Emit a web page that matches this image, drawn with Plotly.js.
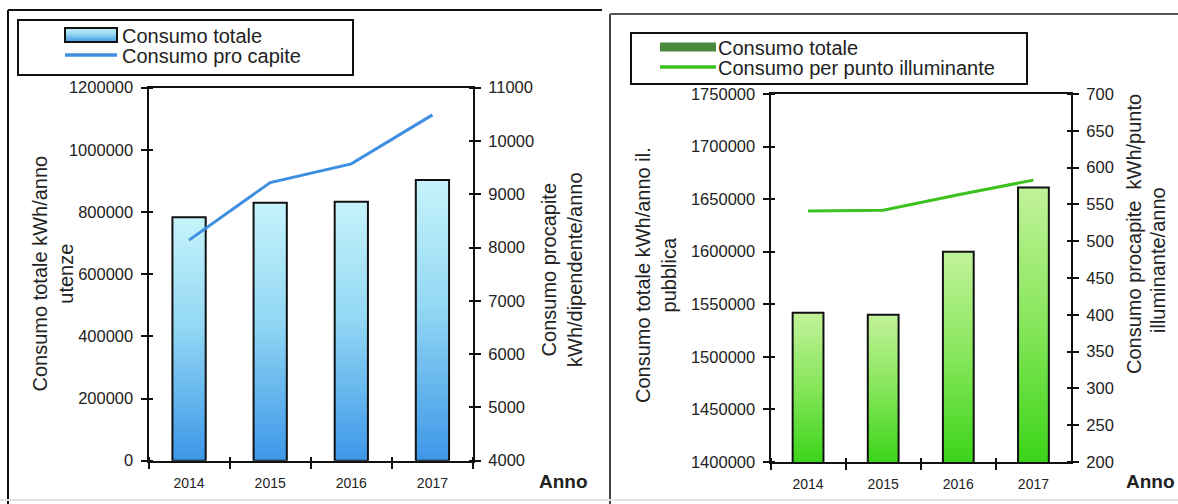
<!DOCTYPE html>
<html>
<head>
<meta charset="utf-8">
<script src="https://cdn.plot.ly/plotly-3.0.1.min.js"></script>
<style>
  html, body { margin: 0; padding: 0; background: #ffffff; }
  #chart { width: 1178px; height: 504px; }
</style>
</head>
<body>
<div id="chart"></div>
<script>
// Anni di riferimento
const years = ['2014', '2015', '2016', '2017'];

// Utenze comunali
const utenzeTotale = [783000, 830000, 833000, 903000];      // kWh/anno
const utenzeProCapite = [8140, 9220, 9570, 10490];          // kWh/dipendente/anno

// Illuminazione pubblica
const illumTotale = [1542000, 1540000, 1600000, 1661000];   // kWh/anno
const illumPerPunto = [541, 542, 563, 583];                 // kWh/punto illuminante/anno

const W = 1178, H = 504;
const fx = x => x / W;
const fy = y => 1 - y / H;

const FONT = '"Liberation Sans", Arial, sans-serif';
const INK = '#222222';
const AXIS = '#111111';

const valueTickFont = { family: FONT, size: 16.5, color: INK };
const yearTickFont = { family: FONT, size: 14, color: INK };
const titleFont = { family: FONT, size: 20, color: INK };

function valueAxis(extra) {
  return Object.assign({
    showgrid: false, zeroline: false,
    showline: true, linecolor: AXIS, linewidth: 2,
    ticks: 'outside', ticklen: 6, tickwidth: 2, tickcolor: AXIS,
    ticklabelstandoff: 4,
    tickfont: valueTickFont, tickformat: 'd',
    automargin: false, fixedrange: true
  }, extra);
}

function yearAxis(extra) {
  return Object.assign({
    type: 'category', range: [-0.5, 3.5],
    showgrid: false, zeroline: false,
    showline: true, mirror: true, linecolor: AXIS, linewidth: 2,
    ticks: 'outside', tickson: 'boundaries', ticklen: 6, tickwidth: 2, tickcolor: AXIS,
    ticklabelstandoff: 8,
    tickfont: yearTickFont,
    automargin: false, fixedrange: true
  }, extra);
}

const leftX = [fx(148.5), fx(473)];
const leftY = [fy(460.7), fy(87.7)];
const rightX = [fx(770.5), fx(1071)];
const rightY = [fy(462), fy(94)];

const traces = [
  {
    type: 'bar', name: 'Consumo totale', legend: 'legend',
    x: years, y: utenzeTotale, xaxis: 'x', yaxis: 'y', width: 0.41,
    marker: { color: '#8fd4f4', line: { color: AXIS, width: 2 } },
    hoverinfo: 'skip'
  },
  {
    type: 'scatter', mode: 'lines', name: 'Consumo pro capite', legend: 'legend',
    x: years, y: utenzeProCapite, xaxis: 'x', yaxis: 'y2',
    line: { color: '#3f8fe0', width: 3 },
    hoverinfo: 'skip'
  },
  {
    type: 'bar', name: 'Consumo totale', legend: 'legend2',
    x: years, y: illumTotale, xaxis: 'x2', yaxis: 'y3', width: 0.41,
    marker: { color: '#4a8a3c', line: { color: AXIS, width: 2 } },
    hoverinfo: 'skip'
  },
  {
    type: 'scatter', mode: 'lines', name: 'Consumo per punto illuminante', legend: 'legend2',
    x: years, y: illumPerPunto, xaxis: 'x2', yaxis: 'y4',
    line: { color: '#3cc21e', width: 3 },
    hoverinfo: 'skip'
  }
];

const legendFont = { family: FONT, size: 20, color: INK };

function vTitle(text, x, y) {
  return {
    text: text, xref: 'paper', yref: 'paper', x: fx(x), y: fy(y),
    xanchor: 'center', yanchor: 'middle', textangle: -90, align: 'center',
    showarrow: false, font: titleFont
  };
}
function annoLabel(x, y) {
  return {
    text: '<b>Anno</b>', xref: 'paper', yref: 'paper', x: fx(x), y: fy(y),
    xanchor: 'center', yanchor: 'middle', showarrow: false,
    font: { family: FONT, size: 19, color: INK }
  };
}
function frameLine(x0, y0, x1, y1, color) {
  return { type: 'line', xref: 'paper', yref: 'paper', x0: fx(x0), x1: fx(x1), y0: fy(y0), y1: fy(y1),
           line: { color: color, width: 2 } };
}
function box(x0, y0, x1, y1) {
  return { type: 'rect', xref: 'paper', yref: 'paper', x0: fx(x0), x1: fx(x1), y0: fy(y0), y1: fy(y1),
           line: { color: '#111', width: 2 }, fillcolor: 'rgba(0,0,0,0)' };
}

const layout = {
  width: W, height: H,
  margin: { l: 0, r: 0, t: 0, b: 0, pad: 0 },
  paper_bgcolor: '#ffffff', plot_bgcolor: 'rgba(0,0,0,0)',
  font: { family: FONT, color: INK },
  showlegend: true,

  // Utenze comunali
  xaxis: yearAxis({ domain: leftX, anchor: 'y' }),
  yaxis: valueAxis({ domain: leftY, anchor: 'x', range: [0, 1200000], dtick: 200000, tick0: 0 }),
  yaxis2: valueAxis({ overlaying: 'y', side: 'right', anchor: 'x', range: [4000, 11000], dtick: 1000, tick0: 4000 }),

  // Illuminazione pubblica
  xaxis2: yearAxis({ domain: rightX, anchor: 'y3' }),
  yaxis3: valueAxis({ domain: rightY, anchor: 'x2', range: [1400000, 1750000], dtick: 50000, tick0: 1400000 }),
  yaxis4: valueAxis({ overlaying: 'y3', side: 'right', anchor: 'x2', range: [200, 700], dtick: 50, tick0: 200 }),

  legend: {
    x: fx(59), y: fy(20), xanchor: 'left', yanchor: 'top',
    bgcolor: 'rgba(0,0,0,0)', borderwidth: 0,
    font: legendFont, itemwidth: 52, tracegroupgap: 0, traceorder: 'normal'
  },
  legend2: {
    x: fx(652), y: fy(33), xanchor: 'left', yanchor: 'top',
    bgcolor: 'rgba(0,0,0,0)', borderwidth: 0,
    font: legendFont, itemwidth: 56, tracegroupgap: 0, traceorder: 'normal'
  },

  annotations: [
    vTitle('Consumo totale kWh/anno<br>utenze', 52.5, 274),
    vTitle('Consumo procapite<br>kWh/dipendente/anno', 562, 270),
    vTitle('Consumo totale kWh/anno il.<br>pubblica', 656, 275),
    vTitle('Consumo procapite\u00a0 kWh/punto', 1134, 234),
    vTitle('illuminante/anno', 1158, 260),
    annoLabel(563, 481),
    annoLabel(1150, 481)
  ],

  shapes: [
    // cornici dei due riquadri
    frameLine(8, 10, 8, 504, '#111'),
    frameLine(8, 10, 602, 10, '#111'),
    frameLine(610, 14, 610, 504, '#444'),
    frameLine(610, 14, 1178, 14, '#555'),
    frameLine(0, 500, 1178, 500, '#e2e2e2'),
    // riquadri delle legende
    box(18, 20, 353, 75),
    box(631, 33, 1027, 84)
  ]
};

const SVGNS = 'http://www.w3.org/2000/svg';

function addGradient(defs, id, y1, y2, stops) {
  const g = document.createElementNS(SVGNS, 'linearGradient');
  g.setAttribute('id', id);
  g.setAttribute('x1', '0'); g.setAttribute('x2', '0');
  if (y1 === null) {
    g.setAttribute('y1', '0'); g.setAttribute('y2', '1');
  } else {
    g.setAttribute('gradientUnits', 'userSpaceOnUse');
    g.setAttribute('y1', y1); g.setAttribute('y2', y2);
  }
  stops.forEach(([off, col]) => {
    const s = document.createElementNS(SVGNS, 'stop');
    s.setAttribute('offset', off);
    s.setAttribute('stop-color', col);
    g.appendChild(s);
  });
  defs.appendChild(g);
}

const blueStops = [['0', '#c6f3fb'], ['0.45', '#93d8f4'], ['1', '#3d97e8']];
const greenStops = [['0', '#c2f29a'], ['0.5', '#86e65a'], ['1', '#3cd41a']];

function getDefs(gd) {
  const svg = gd.querySelector('.main-svg');
  return svg.querySelector('defs') || svg.insertBefore(document.createElementNS(SVGNS, 'defs'), svg.firstChild);
}

// sfumatura verticale delle colonne, dalla sommità al fondo dell'area visibile
function shadeBars(gd, subplot, yName, stops, prefix) {
  const defs = getDefs(gd);
  const plotH = gd._fullLayout[yName]._length;
  gd.querySelectorAll('.subplot.' + subplot + ' .barlayer .point path').forEach((p, i) => {
    const bb = p.getBBox();
    const top = Math.max(bb.y, 0);
    const bottom = Math.min(bb.y + bb.height, plotH);
    const id = prefix + i;
    addGradient(defs, id, top, bottom, stops);
    p.style.fill = 'url(#' + id + ')';
  });
}

// tacche a croce: metà fuori e metà dentro l'asse
function crossTicks(gd) {
  gd.querySelectorAll('path.ticks').forEach(p => {
    const d = p.getAttribute('d') || '';
    if (p.dataset.cross === d) return;
    const nd = d.replace(/M\s*([-\d.e]+)\s*,\s*([-\d.e]+)\s*([hvHV])\s*([-\d.e]+)/g, (s, x, y, c, l) => {
      let a = +x, b = +y;
      const L = +l;
      if (c === 'h' || c === 'H') a -= L; else b -= L;
      return 'M' + a + ',' + b + c.toLowerCase() + (2 * L);
    });
    p.setAttribute('d', nd);
    p.dataset.cross = nd;
  });
}

function parseTranslate(el) {
  const m = /translate\(\s*([-\d.e]+)[ ,]+([-\d.e]+)\s*\)/.exec(el.getAttribute('transform') || '');
  return m ? [+m[1], +m[2]] : [0, 0];
}

// disposizione delle voci di legenda: righe, simboli e testo
function arrangeLegend(gd, cls, originX, rows, sym, textX, barStyle) {
  const items = gd.querySelectorAll('g.' + cls + ' g.traces');
  items.forEach((item, i) => {
    const ctm = item.getCTM();
    const [tx, ty] = parseTranslate(item);
    item.setAttribute('transform', 'translate(' + (tx + originX - ctm.e) + ',' + (ty + rows[i] - ctm.f) + ')');

    if (i === 0) {
      item.querySelectorAll('.legendpoints path').forEach(bar => {
        bar.removeAttribute('transform');
        bar.setAttribute('d', 'M' + sym[0] + ',' + (-barStyle.h / 2) + 'H' + sym[1] + 'V' + (barStyle.h / 2) + 'H' + sym[0] + 'Z');
        bar.style.fill = barStyle.fill;
        bar.style.stroke = barStyle.stroke;
        bar.style.strokeWidth = barStyle.strokeWidth + 'px';
      });
    }
    item.querySelectorAll('.legendlines path').forEach(l => {
      l.setAttribute('d', 'M' + sym[0] + ',0h' + (sym[1] - sym[0]));
      l.style.strokeWidth = '3.5px';
    });
    const t = item.querySelector('text.legendtext');
    if (t) t.setAttribute('x', textX);
  });
}

const gd = document.getElementById('chart');
Plotly.newPlot(gd, traces, layout, { staticPlot: true, displayModeBar: false }).then(() => {
  shadeBars(gd, 'xy', 'yaxis', blueStops, 'gradUtenze');
  shadeBars(gd, 'x2y3', 'yaxis3', greenStops, 'gradIllum');
  crossTicks(gd);

  const defs = getDefs(gd);
  addGradient(defs, 'gradLegendUtenze', null, null, blueStops);
  arrangeLegend(gd, 'legend', 59, [35, 55], [6, 58], 63,
    { h: 14, fill: 'url(#gradLegendUtenze)', stroke: '#111', strokeWidth: 2 });
  arrangeLegend(gd, 'legend2', 652, [47, 67], [8, 64], 66,
    { h: 9, fill: '#4a8a3c', stroke: 'none', strokeWidth: 0 });

  gd.on('plotly_afterplot', () => crossTicks(gd));
});
</script>
</body>
</html>
